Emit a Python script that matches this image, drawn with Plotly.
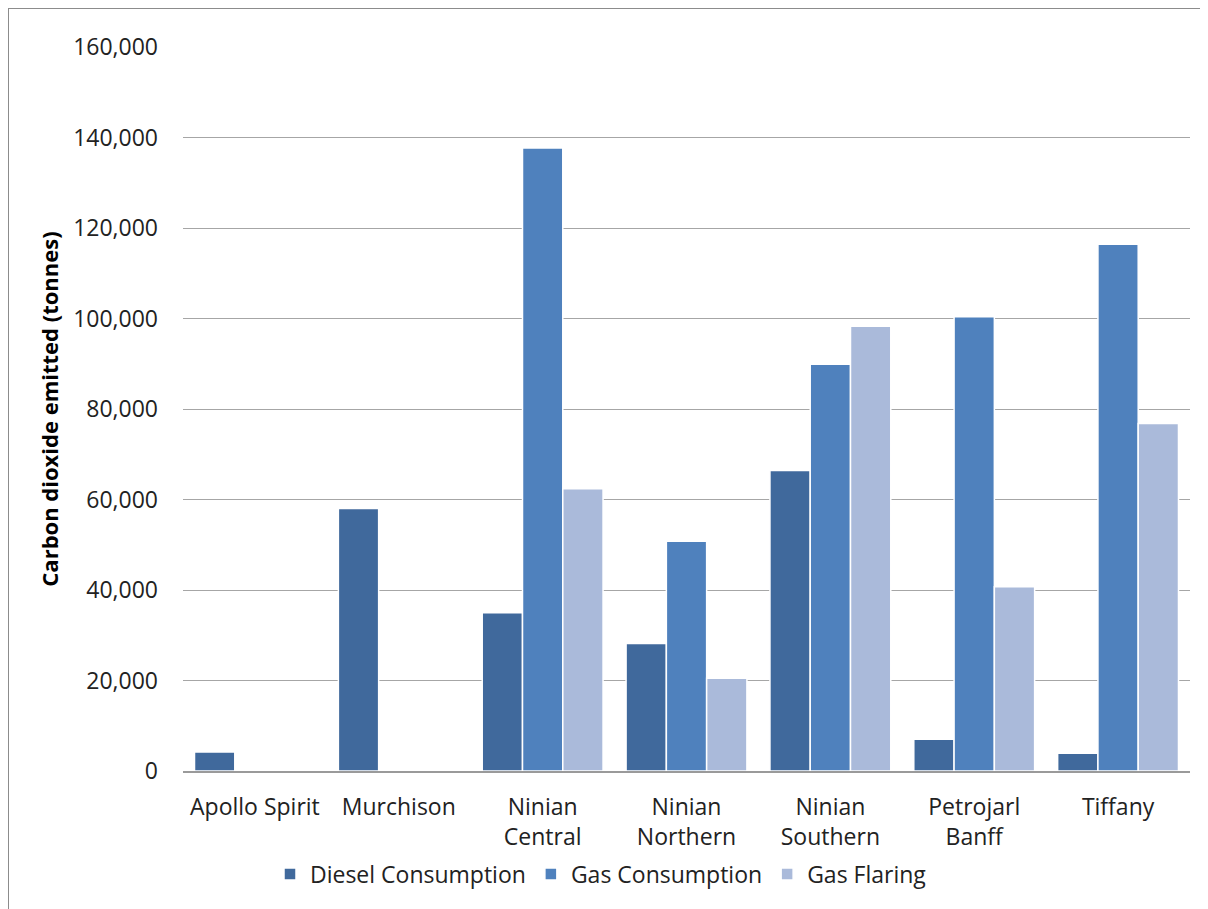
import plotly.graph_objects as go

categories = ["Apollo Spirit", "Murchison", "Ninian<br>Central", "Ninian<br>Northern",
              "Ninian<br>Southern", "Petrojarl<br>Banff", "Tiffany"]
diesel = [4200, 58000, 35000, 28200, 66400, 7000, 3900]
gas_consumption = [None, None, 137700, 50800, 89900, 100400, 116400]
gas_flaring = [None, None, 62400, 20500, 98300, 40700, 76800]
y_ticks = [0, 20000, 40000, 60000, 80000, 100000, 120000, 140000, 160000]
y_tick_text = ["0", "20,000", "40,000", "60,000", "80,000", "100,000", "120,000", "140,000", "160,000"]

FONT = "Open Sans"
OFF = 8  # page offset of the figure
W, H = 1200, 901
# desired plot area in page pixels: x 183..1190, y 47..771
L = 183 - OFF
T = 47 - OFF
pw = 1190 - 183
ph = 771 - 47
R = W - L - pw
B = H - T - ph

fig = go.Figure()
for name, vals, col in [("Diesel Consumption", diesel, "#40699C"),
                        ("Gas Consumption", gas_consumption, "#4F81BD"),
                        ("Gas Flaring", gas_flaring, "#AABADA")]:
    fig.add_trace(go.Bar(x=categories, y=vals, name=name,
                         marker=dict(color=col, line=dict(color="white", width=1.5))))

def px_x(px):  # page px -> paper x
    return (px - 183) / pw

def px_y(py):  # page px -> paper y
    return (771 - py) / ph

border = dict(color="#8C8C8C", width=2)
fig.update_layout(
    width=W, height=H,
    margin=dict(l=L, r=R, t=T, b=B),
    paper_bgcolor="white", plot_bgcolor="white",
    barmode="group", bargap=0.16, bargroupgap=0.0,
    font=dict(family=FONT, size=23, color="#222222"),
    showlegend=True,
    legend=dict(orientation="h", x=px_x(270), xanchor="left", y=px_y(874), yanchor="middle",
                font=dict(family=FONT, size=23, color="#222222"),
                itemwidth=30, traceorder="normal", bgcolor="rgba(0,0,0,0)"),
    xaxis=dict(showgrid=False, showline=True, linecolor="#9A9A9A", linewidth=1.5,
               ticks="", ticklabelstandoff=15,
               tickfont=dict(family=FONT, size=23, color="#222222")),
    yaxis=dict(range=[0, 160000], tickvals=y_ticks, ticktext=y_tick_text,
               showgrid=True, gridcolor="#A6A6A6", gridwidth=1, zeroline=False,
               showline=False, ticks="", ticklabelstandoff=24,
               tickfont=dict(family=FONT, size=23, color="#222222"),
               title=dict(text="<b>Carbon dioxide emitted (tonnes)</b>", standoff=8,
                          font=dict(family=FONT, size=22, color="#000000"))),
    shapes=[
        dict(type="line", xref="paper", yref="paper",
             x0=px_x(8), x1=px_x(1260), y0=px_y(8), y1=px_y(8), line=border),
        dict(type="line", xref="paper", yref="paper",
             x0=px_x(8), x1=px_x(8), y0=px_y(8), y1=px_y(980), line=border),
    ],
)

fig.write_html("out.html")
